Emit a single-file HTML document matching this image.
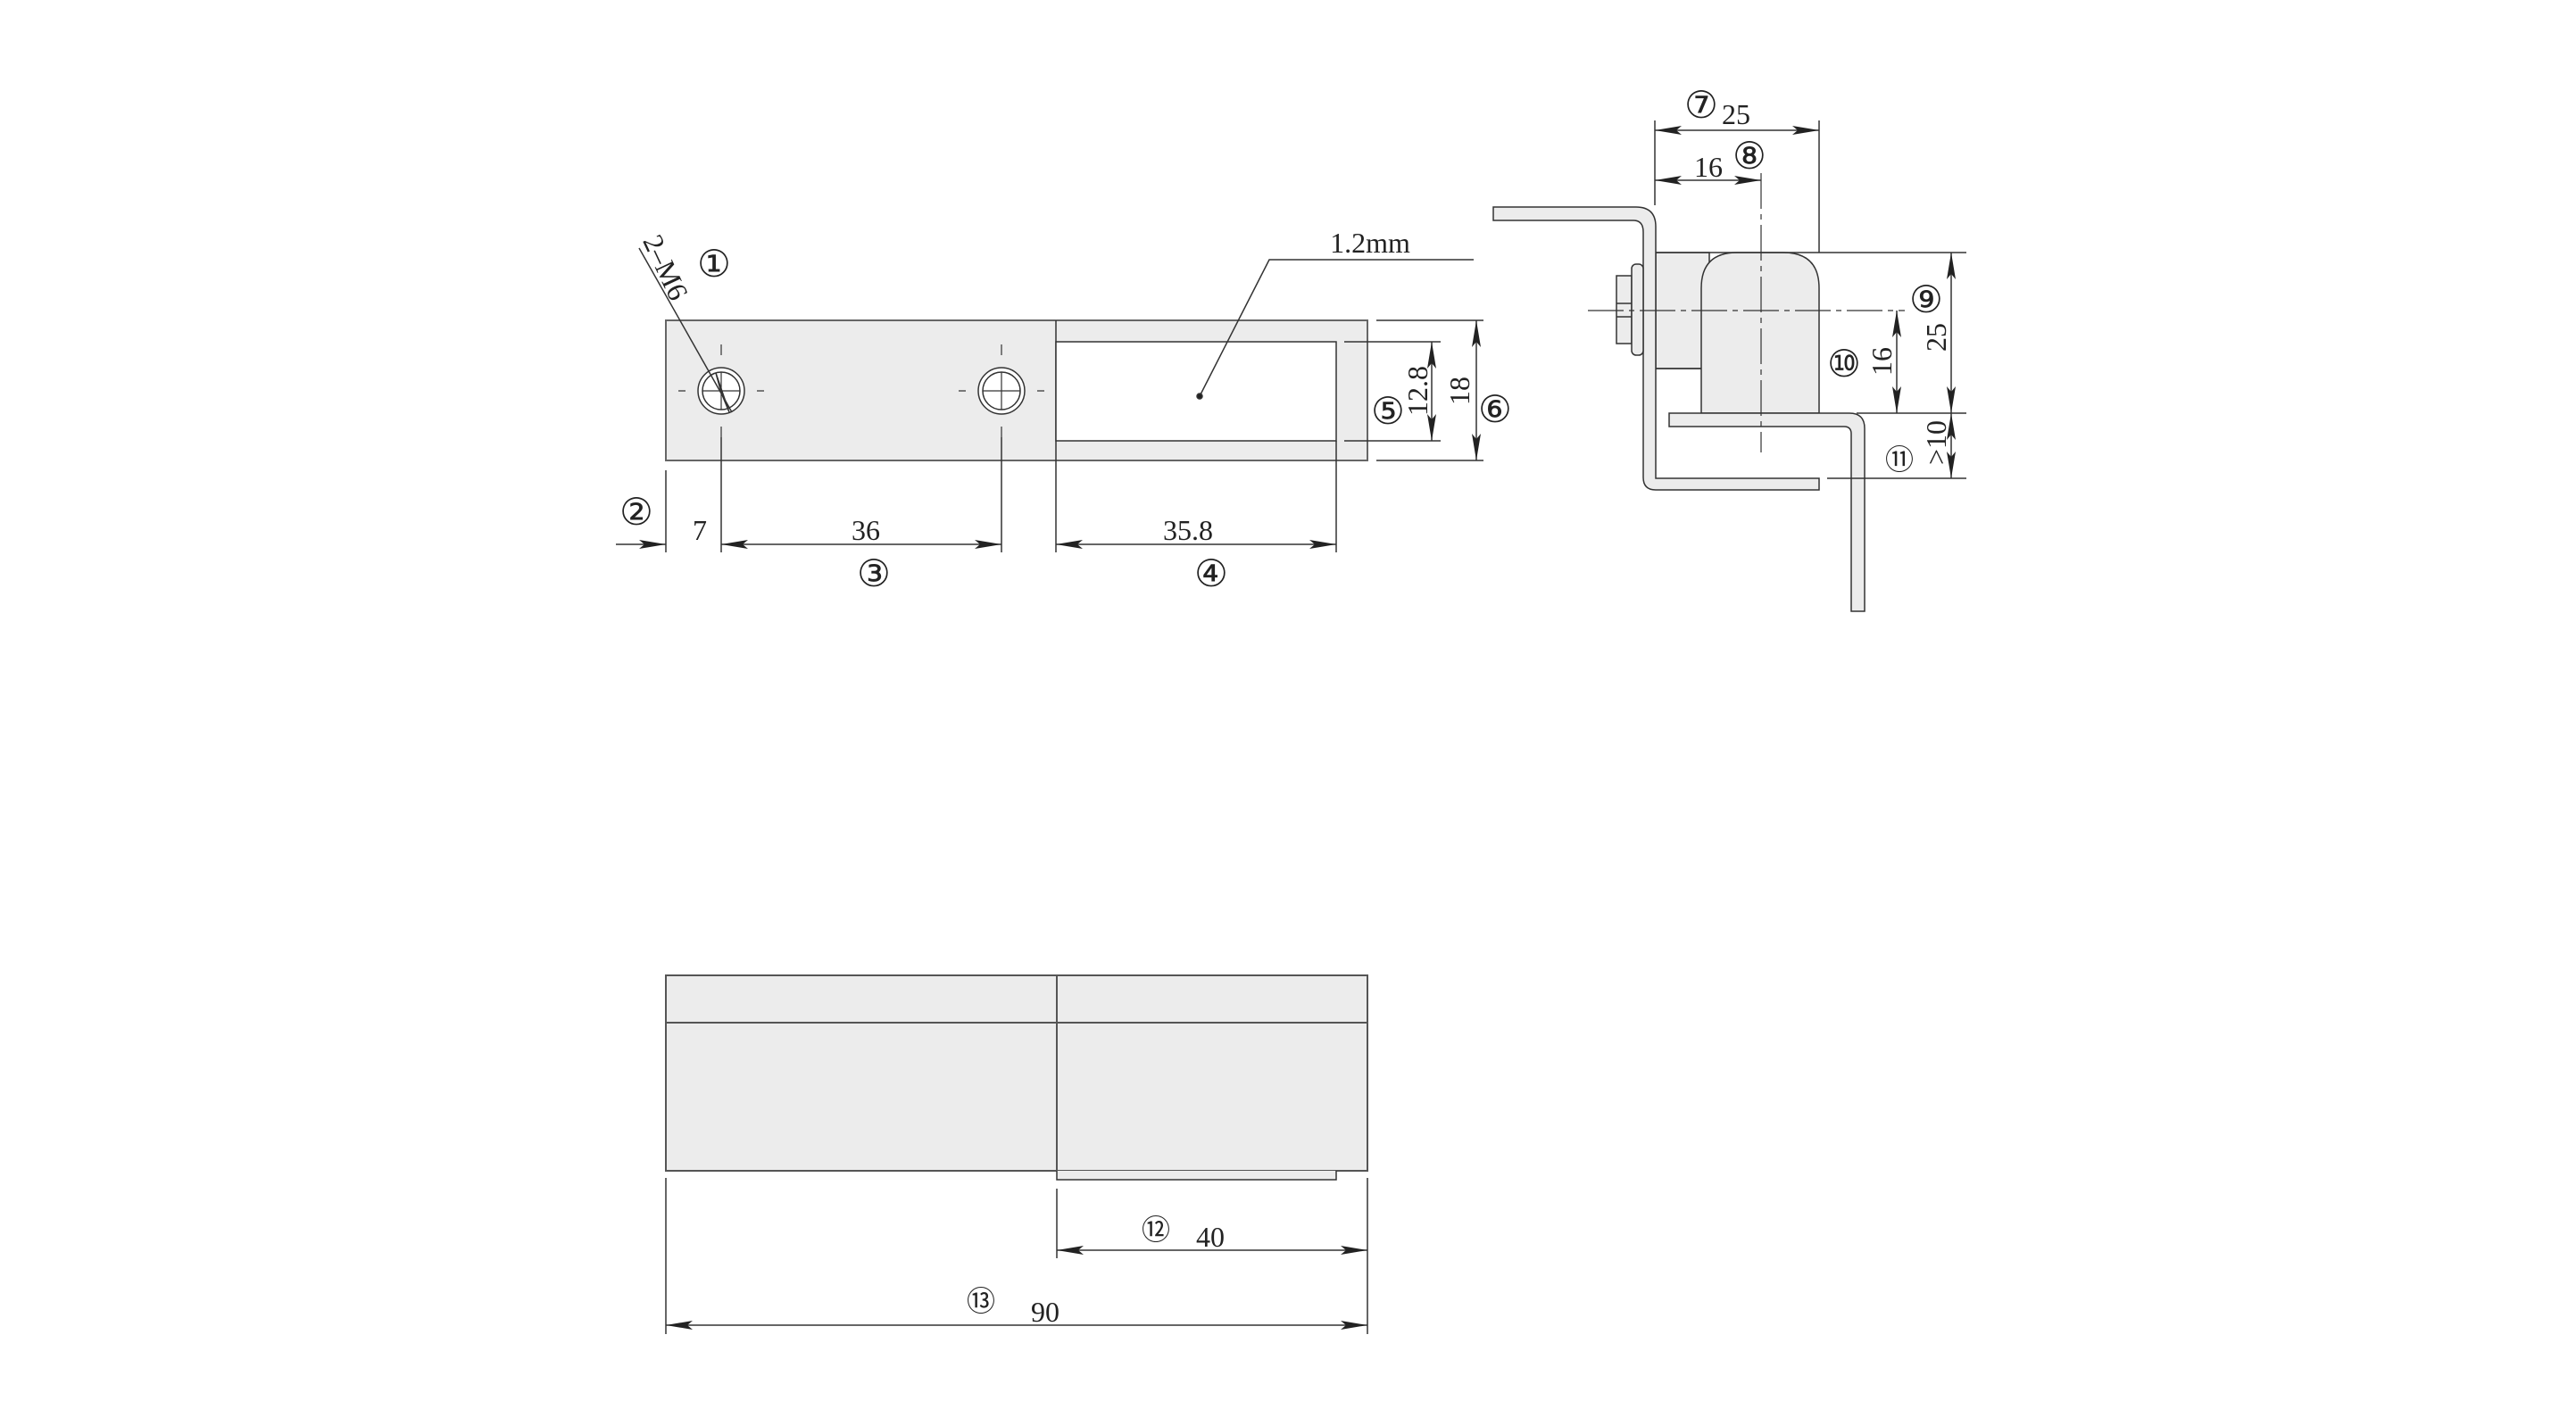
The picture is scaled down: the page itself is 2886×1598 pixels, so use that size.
<!DOCTYPE html>
<html><head><meta charset="utf-8"><style>
html,body{margin:0;padding:0;background:#fff}
svg{display:block}
text{font-family:"Liberation Serif","DejaVu Serif",serif;fill:#222}
.c{font-family:"DejaVu Sans","Liberation Sans",sans-serif}
</style></head><body>
<svg width="2886" height="1598" viewBox="0 0 2886 1598" xmlns="http://www.w3.org/2000/svg">
<defs>
<marker id="a" viewBox="0 0 30 10" refX="30" refY="5" markerWidth="30" markerHeight="10" markerUnits="userSpaceOnUse" orient="auto-start-reverse">
<path d="M0,0 L30,5 L0,10 L6,5 Z" fill="#222"/></marker>
</defs>
<g stroke="#333" stroke-width="1.5" fill="none">
<rect x="746" y="359" width="786" height="157" fill="#ececec" stroke="#666" stroke-width="2"/>
<line x1="1183" y1="359" x2="1183" y2="516"/>
<rect x="1183" y="383" width="314" height="111" fill="#fff"/>
<circle cx="808" cy="438" r="26" fill="#fff"/><circle cx="808" cy="438" r="21"/>
<circle cx="1122" cy="438" r="26" fill="#fff"/><circle cx="1122" cy="438" r="21"/>
<path d="M787,438 H829 M808,417 V459 M1101,438 H1143 M1122,417 V459" stroke-width="1.2"/>
<path d="M808,386 V398 M808,478 V490 M760,438 H768 M848,438 H856 M1122,386 V398 M1122,478 V490 M1074,438 H1082 M1162,438 H1170" stroke-width="1.2"/>
<line x1="716" y1="278" x2="820" y2="462"/>
<path d="M802,418 L817,462 L808,440 Z" fill="#222"/>
<polyline points="1651,291 1422,291 1344,444"/>
<circle cx="1344" cy="444" r="3" fill="#222"/>
<path d="M746,527 V619 M808,490 V619 M1122,490 V619 M1183,516 V619 M1497,494 V619"/>
<line x1="690" y1="610" x2="746" y2="610" marker-end="url(#a)"/>
<line x1="808" y1="610" x2="1122" y2="610" marker-start="url(#a)" marker-end="url(#a)"/>
<line x1="1183" y1="610" x2="1497" y2="610" marker-start="url(#a)" marker-end="url(#a)"/>
<path d="M1506,383 H1614 M1506,494 H1614 M1542,359 H1662 M1542,516 H1662"/>
<line x1="1604" y1="383" x2="1604" y2="494" marker-start="url(#a)" marker-end="url(#a)"/>
<line x1="1654" y1="359" x2="1654" y2="516" marker-start="url(#a)" marker-end="url(#a)"/>

<rect x="1855" y="283" width="60" height="130" fill="#ececec"/>
<path d="M1906,463 V323 Q1906,283 1946,283 H1998 Q2038,283 2038,323 V463 Z" fill="#ececec"/>
<path d="M1855,283 H2038 M1855,413 H1906"/>
<path d="M1673,232 H1833 Q1855,232 1855,254 V536 H2038 V549 H1855 Q1841,549 1841,535 V260 Q1841,247 1830,247 H1673 Z" fill="#ececec"/>
<path d="M1870,463 H2072 Q2089,463 2089,480 V685 H2074 V486 Q2074,478 2066,478 H1870 Z" fill="#ececec"/>
<rect x="1811" y="309" width="17" height="76" fill="#ececec"/>
<path d="M1811,340 H1828 M1811,355 H1828"/>
<rect x="1828" y="296" width="13" height="102" rx="5" fill="#ececec"/>
<line x1="1779" y1="348" x2="2134" y2="348" stroke-dasharray="40,6,6,6" stroke-width="1.2"/>
<line x1="1973" y1="194" x2="1973" y2="507" stroke-dasharray="40,6,6,6" stroke-width="1.2"/>
<path d="M1854,135 V230 M2038,135 V283"/>
<line x1="1854" y1="146" x2="2038" y2="146" marker-start="url(#a)" marker-end="url(#a)"/>
<line x1="1854" y1="202" x2="1973" y2="202" marker-start="url(#a)" marker-end="url(#a)"/>
<path d="M2038,283 H2203 M2080,463 H2203 M2047,536 H2203"/>
<line x1="2186" y1="283" x2="2186" y2="463" marker-start="url(#a)" marker-end="url(#a)"/>
<line x1="2125" y1="348" x2="2125" y2="463" marker-start="url(#a)" marker-end="url(#a)"/>
<line x1="2186" y1="463" x2="2186" y2="536" marker-start="url(#a)" marker-end="url(#a)"/>

<rect x="746" y="1093" width="786" height="219" fill="#ececec" stroke="#555" stroke-width="2"/>
<path d="M746,1146 H1532 M1184,1093 V1312" stroke="#555" stroke-width="2"/>
<path d="M1184,1312 V1322 H1497 V1312" fill="#ececec"/>
<path d="M746,1320 V1495 M1184,1332 V1410 M1532,1320 V1495"/>
<line x1="1184" y1="1401" x2="1532" y2="1401" marker-start="url(#a)" marker-end="url(#a)"/>
<line x1="746" y1="1485" x2="1532" y2="1485" marker-start="url(#a)" marker-end="url(#a)"/>
</g>

<g font-size="32">
<text x="784" y="605" text-anchor="middle">7</text>
<text x="970" y="605" text-anchor="middle">36</text>
<text x="1331" y="605" text-anchor="middle">35.8</text>
<text x="1535" y="283" text-anchor="middle">1.2mm</text>
<text x="745" y="310" text-anchor="middle" transform="rotate(65 745 300)">2–M6</text>
<text x="1588" y="449" text-anchor="middle" transform="rotate(-90 1588 438)">12.8</text>
<text x="1635" y="449" text-anchor="middle" transform="rotate(-90 1635 438)">18</text>
<text x="1945" y="139" text-anchor="middle">25</text>
<text x="1914" y="198" text-anchor="middle">16</text>
<text x="2169" y="389" text-anchor="middle" transform="rotate(-90 2169 378)">25</text>
<text x="2108" y="416" text-anchor="middle" transform="rotate(-90 2108 405)">16</text>
<text x="2169" y="507" text-anchor="middle" transform="rotate(-90 2169 496)">&gt;10</text>
<text x="1356" y="1397" text-anchor="middle">40</text>
<text x="1171" y="1481" text-anchor="middle">90</text>
</g>
<g class="c" font-size="42" text-anchor="middle">
<text x="800" y="310">①</text>
<text x="713" y="588">②</text>
<text x="979" y="657">③</text>
<text x="1357" y="657">④</text>
<text x="1555" y="475">⑤</text>
<text x="1675" y="473">⑥</text>
<text x="1906" y="132">⑦</text>
<text x="1960" y="189">⑧</text>
<text x="2158" y="350">⑨</text>
<text x="2066" y="422">⑩</text>
<text x="2128" y="526" font-size="32">⑪</text>
<text x="1295" y="1389" font-size="32">⑫</text>
<text x="1099" y="1469" font-size="32">⑬</text>
</g>
</svg>
</body></html>
